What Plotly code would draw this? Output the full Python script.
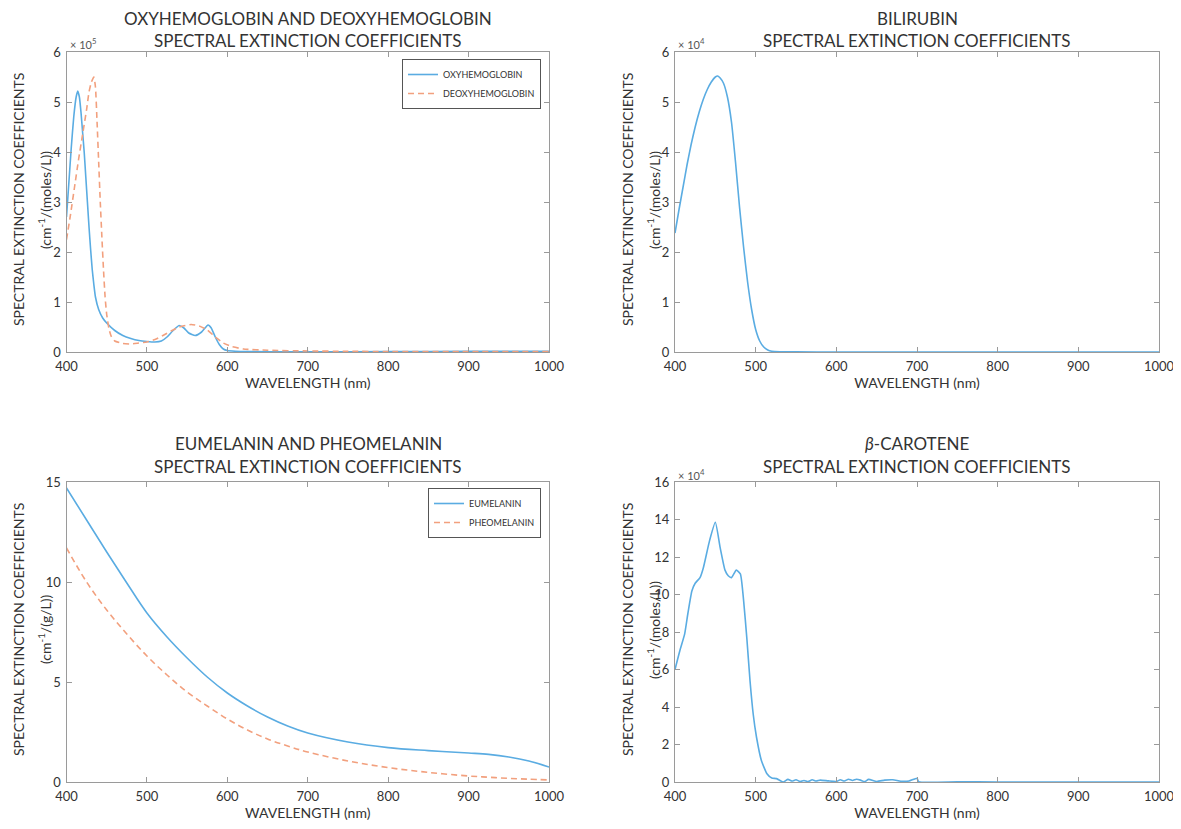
import plotly.graph_objects as go

# ---------------- data ----------------
# Oxy / deoxy hemoglobin, values in units of 1e5 cm^-1/(moles/L)
oxy_nm = [400, 403, 406, 409, 412, 414, 416, 418, 420, 422, 424, 426, 428, 430, 432, 434, 436, 440, 445,
          450, 460, 470, 480, 490, 500, 510, 518, 525, 532, 540, 546, 552, 560, 568, 576, 580, 585, 590,
          595, 600, 610, 620, 650, 700, 800, 900, 1000]
oxy_val = [2.7, 3.4, 4.1, 4.7, 5.1, 5.22, 5.1, 4.8, 4.4, 4.0, 3.5, 3.0, 2.5, 2.05, 1.65, 1.35, 1.1, 0.85, 0.68,
           0.58, 0.43, 0.33, 0.27, 0.23, 0.21, 0.2, 0.22, 0.3, 0.42, 0.53, 0.48, 0.38, 0.33, 0.4, 0.54, 0.48, 0.3, 0.15,
           0.06, 0.03, 0.015, 0.01, 0.004, 0.003, 0.008, 0.012, 0.012]
deoxy_nm = [400, 405, 410, 415, 420, 425, 428, 431, 434, 436, 438, 440, 442, 444, 446, 448, 450, 453, 456,
            460, 470, 480, 490, 500, 510, 520, 530, 540, 555, 565, 575, 585, 595, 605, 620, 650, 700, 750,
            800, 900, 1000]
deoxy_val = [2.25, 2.75, 3.3, 3.85, 4.35, 4.85, 5.2, 5.4, 5.5, 5.3, 4.6, 3.8, 3.0, 2.3, 1.65, 1.1, 0.75, 0.45, 0.3,
             0.22, 0.17, 0.16, 0.18, 0.2, 0.25, 0.33, 0.42, 0.5, 0.55, 0.52, 0.44, 0.3, 0.18, 0.11, 0.06, 0.035, 0.02, 0.014,
             0.008, 0.008, 0.01]

# Bilirubin, units of 1e4 cm^-1/(moles/L)
bili_nm = [400, 405, 410, 415, 420, 425, 430, 435, 440, 445, 450, 453, 456, 460, 465, 470, 475, 480, 485,
           490, 495, 500, 505, 510, 515, 520, 530, 550, 600, 700, 800, 900, 1000]
bili_val = [2.38, 2.85, 3.3, 3.75, 4.15, 4.5, 4.8, 5.05, 5.25, 5.4, 5.5, 5.52, 5.48, 5.38, 5.1, 4.6, 3.8, 2.9, 2.1,
            1.4, 0.85, 0.45, 0.22, 0.1, 0.04, 0.015, 0.005, 0.002, 0.001, 0.0, 0.0, 0.0, 0.0]

# Eumelanin / pheomelanin, cm^-1/(g/L)
mel_nm = [400, 425, 450, 475, 500, 525, 550, 575, 600, 625, 650, 675, 700, 750, 800, 850, 900, 925, 950, 975, 1000]
eu_val = [14.7, 13.1, 11.5, 9.95, 8.45, 7.25, 6.2, 5.25, 4.45, 3.8, 3.25, 2.8, 2.45, 2.0, 1.72, 1.57, 1.45, 1.38, 1.25, 1.05, 0.75]
pheo_val = [11.7, 10.0, 8.6, 7.4, 6.3, 5.35, 4.5, 3.8, 3.15, 2.6, 2.15, 1.8, 1.5, 1.05, 0.72, 0.48, 0.3, 0.24, 0.18, 0.14, 0.1]

# Beta-carotene, units of 1e4 cm^-1/(moles/L)
car_nm = [400, 406, 412, 416, 421, 425, 431, 435, 443, 450, 456, 462, 466, 470, 476, 481, 485, 489, 493,
          497, 501, 507, 514, 520, 526, 534, 540, 545, 550, 555, 560, 565, 570, 575, 580, 590, 600, 605,
          610, 615, 620, 625, 630, 635, 640, 650, 660, 670, 680, 690, 700, 702, 750, 800, 900, 1000]
car_val = [6.0, 7.0, 7.9, 9.0, 10.2, 10.6, 10.9, 11.4, 12.9, 13.85, 12.5, 11.3, 11.0, 10.9, 11.3, 11.1, 9.7, 7.7, 5.4,
           3.6, 2.4, 1.16, 0.44, 0.21, 0.18, 0.0, 0.14, 0.05, 0.12, 0.03, 0.08, 0.02, 0.12, 0.05, 0.1, 0.06, 0.03, 0.12,
           0.05, 0.15, 0.08, 0.15, 0.1, 0.02, 0.14, 0.03, 0.1, 0.12, 0.04, 0.05, 0.2, 0.02, 0.01, 0.0, 0.0, 0.0]

x_ticks = [400, 500, 600, 700, 800, 900, 1000]

# ---------------- style ----------------
FONT = "Lato"
BLUE = "#5AACE2"
ORANGE = "#F2A07E"
AX = "#9a9a9a"
TXT = "#333333"
OFF = 8                      # page body margin
W, H = 1181 - OFF, 829 - 2 * OFF

fig = go.Figure()

def line(x, y, xa, ya, name, color, dash, legend, show, smooth=0.5):
    fig.add_trace(go.Scatter(
        x=x, y=y, xaxis=xa, yaxis=ya, name=name, mode="lines",
        line=dict(color=color, width=1.6, dash=dash, shape="spline", smoothing=smooth),
        legend=legend, showlegend=show))

line(oxy_nm, oxy_val, "x", "y", "OXYHEMOGLOBIN", BLUE, "solid", "legend", True)
line(deoxy_nm, deoxy_val, "x", "y", "DEOXYHEMOGLOBIN", ORANGE, "6px,4px", "legend", True)
line(bili_nm, bili_val, "x2", "y2", "BILIRUBIN", BLUE, "solid", "legend", False)
line(mel_nm, eu_val, "x3", "y3", "EUMELANIN", BLUE, "solid", "legend2", True, 1.0)
line(mel_nm, pheo_val, "x3", "y3", "PHEOMELANIN", ORANGE, "6px,4px", "legend2", True, 1.0)
line(car_nm, car_val, "x4", "y4", "β-CAROTENE", BLUE, "solid", "legend", False)

def px_x(p):
    return (p - OFF) / W

def px_y(p):
    return 1 - (p - OFF) / H

dom_left = [px_x(66.5), px_x(549)]
dom_right = [px_x(675), px_x(1159)]
dom_top = [px_y(352), px_y(52)]
dom_bot = [px_y(782), px_y(482)]

xcommon = dict(range=[400, 1000], tickvals=x_ticks, ticks="inside", ticklen=5, tickcolor=AX,
               showline=True, linecolor=AX, linewidth=1, mirror="allticks", showgrid=False, zeroline=False,
               automargin=False, ticklabelstandoff=2,
               tickfont=dict(family=FONT, size=13, color=TXT),
               title=dict(text="WAVELENGTH (nm)", font=dict(family=FONT, size=14, color=TXT), standoff=0))
ycommon = dict(ticks="inside", ticklen=5, tickcolor=AX, showline=True, linecolor=AX, linewidth=1,
               mirror="allticks", showgrid=False, zeroline=False, automargin=False, ticklabelstandoff=2,
               tickfont=dict(family=FONT, size=13, color=TXT))

fig.update_layout(
    template="none",
    width=W, height=H, margin=dict(l=0, r=0, t=0, b=0, autoexpand=False),
    paper_bgcolor="white", plot_bgcolor="white",
    xaxis=dict(domain=dom_left, anchor="y", **xcommon),
    yaxis=dict(domain=dom_top, anchor="x", range=[0, 6], tickvals=[0, 1, 2, 3, 4, 5, 6], **ycommon),
    xaxis2=dict(domain=dom_right, anchor="y2", **xcommon),
    yaxis2=dict(domain=dom_top, anchor="x2", range=[0, 6], tickvals=[0, 1, 2, 3, 4, 5, 6], **ycommon),
    xaxis3=dict(domain=dom_left, anchor="y3", **xcommon),
    yaxis3=dict(domain=dom_bot, anchor="x3", range=[0, 15], tickvals=[0, 5, 10, 15], **ycommon),
    xaxis4=dict(domain=dom_right, anchor="y4", **xcommon),
    yaxis4=dict(domain=dom_bot, anchor="x4", range=[0, 16], tickvals=list(range(0, 17, 2)), **ycommon),
    legend=dict(x=px_x(541), y=px_y(59), xanchor="right", yanchor="top", bgcolor="white",
                bordercolor="#555555", borderwidth=1, font=dict(family=FONT, size=9, color=TXT),
                itemwidth=30, tracegroupgap=0),
    legend2=dict(x=px_x(541), y=px_y(488), xanchor="right", yanchor="top", bgcolor="white",
                 bordercolor="#555555", borderwidth=1, font=dict(family=FONT, size=9, color=TXT),
                 itemwidth=30, tracegroupgap=0),
)

ann = []
def text(x, y, t, size, angle=0, xanchor="center", color=TXT):
    ann.append(dict(x=px_x(x), y=px_y(y), xref="paper", yref="paper", text=t, showarrow=False,
                    textangle=angle, xanchor=xanchor, yanchor="middle",
                    font=dict(family=FONT, size=size, color=color)))

# titles
text(308, 18, "OXYHEMOGLOBIN AND DEOXYHEMOGLOBIN", 17)
text(308, 40, "SPECTRAL EXTINCTION COEFFICIENTS", 17)
text(917, 18, "BILIRUBIN", 17)
text(917, 40, "SPECTRAL EXTINCTION COEFFICIENTS", 17)
text(308, 443, "EUMELANIN AND PHEOMELANIN", 17)
text(308, 466, "SPECTRAL EXTINCTION COEFFICIENTS", 17)
text(917, 443, "<i>β</i>-CAROTENE", 17)
text(917, 466, "SPECTRAL EXTINCTION COEFFICIENTS", 17)

# y-axis titles
for (x1, x2, yc, unit) in [(18, 44, 200, "(cm<sup>-1</sup>/(moles/L))"),
                           (627, 653, 200, "(cm<sup>-1</sup>/(moles/L))"),
                           (18, 44, 630, "(cm<sup>-1</sup>/(g/L))"),
                           (627, 653, 630, "(cm<sup>-1</sup>/(moles/L))")]:
    text(x1, yc, "SPECTRAL EXTINCTION COEFFICIENTS", 14, angle=-90)
    text(x2, yc, unit, 14, angle=-90)

# exponent labels
text(68, 44, "× 10<sup>5</sup>", 11, xanchor="left", color="#555555")
text(676, 44, "× 10<sup>4</sup>", 11, xanchor="left", color="#555555")
text(676, 474, "× 10<sup>4</sup>", 11, xanchor="left", color="#555555")

fig.update_layout(annotations=ann)

fig.write_html("out.html")
